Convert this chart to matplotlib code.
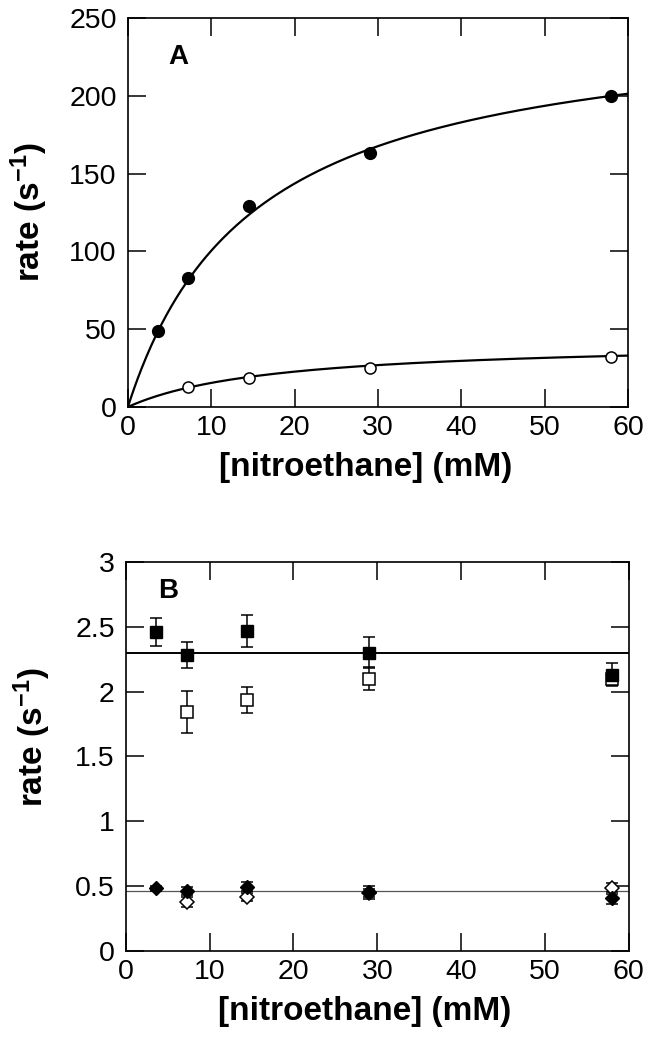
import numpy as np
import matplotlib
matplotlib.use("Agg")
import matplotlib.pyplot as plt

plt.rcParams['font.family'] = ['Liberation Sans', 'DejaVu Sans']
plt.rcParams['mathtext.fontset'] = 'custom'
plt.rcParams['mathtext.rm'] = 'Liberation Sans:bold'
plt.rcParams['mathtext.bf'] = 'Liberation Sans:bold'
plt.rcParams['mathtext.default'] = 'bf'

# (A) steady-state rates
conc_a = [3.6, 7.25, 14.5, 29.0, 58.0]
rate_filled = [49, 83, 129, 163, 200]
conc_a_open = [7.25, 14.5, 29.0, 58.0]
rate_open = [12.6, 18.8, 25.3, 32.1]
# Michaelis-Menten fit parameters (Vmax, Km)
fit_filled = (252.0, 15.1)
fit_open = (42.7, 17.6)

# (B) rates with error bars
conc_b = [3.6, 7.25, 14.5, 29.0, 58.0]
sq_filled = [2.46, 2.28, 2.47, 2.30, 2.13]
sq_filled_err = [0.11, 0.10, 0.125, 0.12, 0.09]
conc_b_open = [7.25, 14.5, 29.0, 58.0]
sq_open = [1.845, 1.935, 2.10, 2.10]
sq_open_err = [0.16, 0.10, 0.09, 0.05]
dm_filled = [0.483, 0.465, 0.496, 0.452, 0.41]
dm_filled_err = [0.02, 0.03, 0.035, 0.05, 0.045]
dm_open = [0.38, 0.414, 0.45, 0.483]
dm_open_err = [0.04, 0.03, 0.03, 0.04]
mean_high = 2.30
mean_low = 0.463

fig = plt.figure(figsize=(6.66, 10.39), dpi=100)
axA = fig.add_axes([0.192, 0.6083, 0.751, 0.3744])
axB = fig.add_axes([0.189, 0.0847, 0.755, 0.3744])


def style(ax, yticks, ylabels, ylab_pos):
    ax.set_xlim(0, 60)
    ax.set_xticks(range(0, 61, 10))
    ax.set_yticks(yticks)
    ax.set_yticklabels(ylabels)
    ax.tick_params(direction='in', length=13, width=1.1, top=True, right=True,
                   labelsize=20.5, pad=6)
    ax.tick_params(axis='y', pad=8)
    for s in ax.spines.values():
        s.set_linewidth(1.2)
    ax.set_xlabel('[nitroethane] (mM)', fontsize=24, fontweight='bold')
    ax.set_ylabel(r'rate (s$^{-1}$)', fontsize=24, fontweight='bold')
    ax.xaxis.set_label_coords(0.475, -0.115)
    ax.yaxis.set_label_coords(*ylab_pos)


# panel A
x = np.linspace(0, 60, 300)
for vmax, km in (fit_filled, fit_open):
    axA.plot(x, vmax * x / (km + x), color='k', lw=1.6)
axA.plot(conc_a, rate_filled, 'o', color='k', ms=8.5)
axA.plot(conc_a_open, rate_open, 'o', mfc='white', mec='k', mew=1.1, ms=8)
axA.set_ylim(0, 250)
style(axA, range(0, 251, 50), [str(v) for v in range(0, 251, 50)], (-0.155, 0.5))
axA.text(0.1, 0.9, 'A', transform=axA.transAxes, fontsize=20, fontweight='bold',
         ha='center', va='center')

# panel B
axB.axhline(mean_high, color='k', lw=1.4)
axB.axhline(mean_low, color='#555555', lw=0.9)
eb = dict(ecolor='k', elinewidth=1.1, capsize=4.5, capthick=1.1, ls='none')
axB.errorbar(conc_b_open, sq_open, yerr=sq_open_err, fmt='s', mfc='white',
             mec='k', mew=1.1, ms=8.5, **eb)
axB.errorbar(conc_b, sq_filled, yerr=sq_filled_err, fmt='s', color='k',
             ms=9, **eb)
axB.errorbar(conc_b_open, dm_open, yerr=dm_open_err, fmt='D', mfc='white',
             mec='k', mew=1.1, ms=7.5, **eb)
axB.errorbar(conc_b, dm_filled, yerr=dm_filled_err, fmt='D', color='k',
             ms=7.5, **eb)
axB.set_ylim(0, 3)
style(axB, [0, 0.5, 1, 1.5, 2, 2.5, 3], ['0', '0.5', '1', '1.5', '2', '2.5', '3'],
      (-0.145, 0.55))
axB.text(0.085, 0.925, 'B', transform=axB.transAxes, fontsize=20, fontweight='bold',
         ha='center', va='center')

fig.savefig('out.png', dpi=100)
